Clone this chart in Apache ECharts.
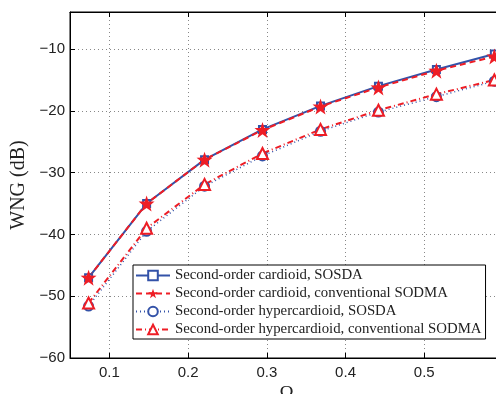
<!DOCTYPE html>
<html>
<head>
<meta charset="utf-8">
<script src="https://cdn.jsdelivr.net/npm/echarts@6/dist/echarts.min.js"></script>
<style>
  html, body { margin: 0; padding: 0; background: #fff; }
  #chart { width: 496px; height: 394px; }
</style>
</head>
<body>
<div id="chart"></div>
<script>
// normalized frequency and WNG values (dB)
const omega = [0.0736, 0.1473, 0.2209, 0.2945, 0.3682, 0.4418, 0.5154, 0.5890]
const cardSOSDA = [-47.0, -35.0, -27.9, -23.0, -19.2, -16.0, -13.3, -10.8]
const cardSODMA = [-47.0, -35.0, -27.9, -23.1, -19.3, -16.2, -13.5, -11.2]
const hypSOSDA = [-51.6, -39.5, -32.2, -27.3, -23.3, -20.2, -17.7, -15.2]
const hypSODMA = [-51.1, -39.0, -31.9, -26.9, -23.0, -19.9, -17.3, -15.0]
const xTicks = [0.1, 0.2, 0.3, 0.4, 0.5]

const names = [
  'Second-order cardioid, SOSDA',
  'Second-order cardioid, conventional SODMA',
  'Second-order hypercardioid, SOSDA',
  'Second-order hypercardioid, conventional SODMA'
]

const blue = '#3352a8'
const red = '#ee1d25'
const star = 'path://M50,0 L62,34 L98,35 L69,57 L80,92 L50,71 L20,92 L31,57 L2,35 L38,34 Z'

const pairs = (ys) => omega.map((x, i) => [x, ys[i]])
const minus = (v) => String(v).replace('-', '\u2212')

const myChart = echarts.init(document.getElementById('chart'))

const option = {
  animation: false,
  grid: {
    left: 70,
    top: 12,
    right: -7,
    bottom: 36,
    outerBoundsMode: 'none',
    show: true,
    borderColor: '#000',
    borderWidth: 1
  },
  legend: {
    orient: 'vertical',
    left: 133,
    top: 265,
    padding: [3, 4, 2, 2],
    itemWidth: 34,
    itemHeight: 12,
    itemGap: 3,
    backgroundColor: '#fff',
    borderColor: '#000',
    borderWidth: 1,
    textStyle: {
      fontFamily: 'Liberation Serif',
      fontSize: 14.8,
      color: '#222',
      lineHeight: 13.5
    },
    data: names
  },
  xAxis: [
    {
      type: 'value',
      min: 0.05,
      max: 0.6,
      splitNumber: 5,
      name: 'Ω',
      nameLocation: 'middle',
      nameGap: 25,
      nameTextStyle: { fontFamily: 'Liberation Serif', fontSize: 19, color: '#222' },
      axisLine: { lineStyle: { color: '#000' } },
      axisTick: { inside: true, length: 5, lineStyle: { color: '#000' } },
      axisLabel: {
        margin: 7,
        fontFamily: 'Liberation Sans',
        fontSize: 15,
        color: '#222',
        formatter: (v) => xTicks.some((t) => Math.abs(t - v) < 1e-6) ? v.toFixed(1) : ''
      },
      splitLine: { show: true, lineStyle: { color: '#888', type: [1, 3] } }
    },
    {
      type: 'value',
      position: 'top',
      min: 0.05,
      max: 0.6,
      splitNumber: 5,
      axisLine: { lineStyle: { color: '#000' } },
      axisTick: { inside: true, length: 5, lineStyle: { color: '#000' } },
      axisLabel: { show: false },
      splitLine: { show: false }
    }
  ],
  yAxis: {
    type: 'value',
    min: -60,
    max: -4,
    interval: 10,
    name: 'WNG (dB)',
    nameLocation: 'middle',
    nameGap: 36,
    nameTextStyle: { fontFamily: 'Liberation Serif', fontSize: 20, color: '#222' },
    axisLine: { show: true, lineStyle: { color: '#000' } },
    axisTick: { show: true, inside: true, length: 5, lineStyle: { color: '#000' } },
    axisLabel: {
      margin: 5,
      showMaxLabel: false,
      fontFamily: 'Liberation Sans',
      fontSize: 15,
      color: '#222',
      formatter: minus
    },
    splitLine: { show: true, lineStyle: { color: '#888', type: [1, 3] } }
  },
  series: [
    {
      name: names[0],
      type: 'line',
      data: pairs(cardSOSDA),
      color: blue,
      lineStyle: { width: 2, type: 'solid' },
      symbol: 'emptyRect',
      symbolSize: 7,
      itemStyle: { borderWidth: 1.5 }
    },
    {
      name: names[1],
      type: 'line',
      data: pairs(cardSODMA),
      color: red,
      lineStyle: { width: 2, type: [6, 4] },
      symbol: star,
      symbolSize: 16
    },
    {
      name: names[2],
      type: 'line',
      data: pairs(hypSOSDA),
      color: blue,
      lineStyle: { width: 1.5, type: [1, 3] },
      symbol: 'emptyCircle',
      symbolSize: 9,
      itemStyle: { borderWidth: 2 }
    },
    {
      name: names[3],
      type: 'line',
      data: pairs(hypSODMA),
      color: red,
      lineStyle: { width: 2, type: [6, 3, 1, 3] },
      symbol: 'emptyTriangle',
      symbolSize: 11,
      itemStyle: { borderWidth: 2 }
    }
  ]
}

myChart.setOption(option)
</script>
</body>
</html>
